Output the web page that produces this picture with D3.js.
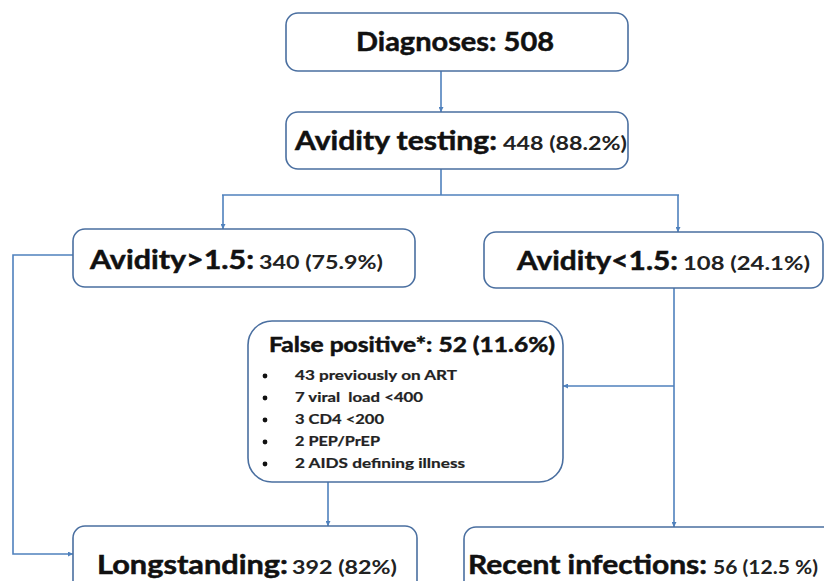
<!DOCTYPE html>
<html>
<head>
<meta charset="utf-8">
<script src="https://cdn.jsdelivr.net/npm/d3@7"></script>
<style>
  html, body { margin: 0; padding: 0; background: #fff; }
  svg { display: block; }
</style>
</head>
<body>
<svg id="chart" width="824" height="581"></svg>
<script>
// ---- data ----
const nodeTitles = ["Diagnoses:", "Avidity testing:", "Avidity>1.5:", "Avidity<1.5:", "False positive*:", "Longstanding:", "Recent infections:"];
const nodeCounts = [508, 448, 340, 108, 52, 392, 56];
const nodePercents = [null, "88.2%", "75.9%", "24.1%", "11.6%", "82%", "12.5 %"];
const falsePositiveReasons = ["43 previously on ART", "7 viral  load <400", "3 CD4 <200", "2 PEP/PrEP", "2 AIDS defining illness"];

// ---- layout (positions only) ----
const layout = [
  {x0: 286, x1: 628, y0: 13, y1: 71, r: 12, base: 51, t: [356, 554], n: null, fs: 27, nfs: 27, combined: true},
  {x0: 286, x1: 628, y0: 112, y1: 169, r: 12, base: 150, t: [295, 497], n: [503, 627], fs: 27, nfs: 19},
  {x0: 73, x1: 415, y0: 229, y1: 287, r: 12, base: 269, t: [90, 254], n: [259, 383], fs: 27, nfs: 19},
  {x0: 484, x1: 823, y0: 232, y1: 288, r: 12, base: 270, t: [517, 678], n: [683, 810], fs: 27, nfs: 19},
  {x0: 248, x1: 563, y0: 321, y1: 482, r: 24, base: 352, t: [269, 555], n: null, fs: 20, nfs: 20, combined: true},
  {x0: 73, x1: 417, y0: 526, y1: 620, r: 12, base: 574, t: [97, 288], n: [292, 397], fs: 27, nfs: 19},
  {x0: 464, x1: 840, y0: 527, y1: 620, r: 12, base: 574, t: [468, 707], n: [713, 818], fs: 27, nfs: 19}
];
const bulletLayout = {bx: 265, tx: 295, baselines: [380, 402, 424, 446, 468], widths: [162, 128, 89, 85, 170], fs: 13};

const lineColor = "#4f81bd";
const boxColor = "#4a6fa0";
const fontFam = "Lato, 'Open Sans', 'Liberation Sans', sans-serif";

const svg = d3.select("#chart");

// arrow marker
svg.append("defs").append("marker")
  .attr("id", "arr")
  .attr("viewBox", "0 0 10 10")
  .attr("refX", 10).attr("refY", 5)
  .attr("markerWidth", 5).attr("markerHeight", 5)
  .attr("markerUnits", "userSpaceOnUse")
  .attr("orient", "auto")
  .append("path").attr("d", "M0,0 L10,5 L0,10 Z").attr("fill", lineColor);

// connectors
const connectors = [
  {pts: [[441, 71], [441, 112]], arrow: true},
  {pts: [[441, 169], [441, 195]], arrow: false},
  {pts: [[222, 195], [679, 195]], arrow: false},
  {pts: [[223, 195], [223, 229]], arrow: true},
  {pts: [[678, 195], [678, 232]], arrow: true},
  {pts: [[73, 255], [13, 255], [13, 554], [73, 554]], arrow: true},
  {pts: [[674, 288], [674, 527]], arrow: true},
  {pts: [[674, 386], [563, 386]], arrow: true},
  {pts: [[328, 482], [328, 526]], arrow: true}
];
const line = d3.line();
svg.selectAll("path.conn").data(connectors).join("path")
  .attr("class", "conn")
  .attr("d", d => line(d.pts))
  .attr("fill", "none")
  .attr("stroke", lineColor)
  .attr("stroke-width", 1.6)
  .attr("marker-end", d => d.arrow ? "url(#arr)" : null);

// boxes
svg.selectAll("rect.box").data(layout).join("rect")
  .attr("class", "box")
  .attr("x", d => d.x0).attr("y", d => d.y0)
  .attr("width", d => d.x1 - d.x0).attr("height", d => d.y1 - d.y0)
  .attr("rx", d => d.r).attr("ry", d => d.r)
  .attr("fill", "#fff")
  .attr("stroke", boxColor)
  .attr("stroke-width", 1.6);

// titles
layout.forEach((L, i) => {
  const pct = nodePercents[i];
  const numText = pct ? `${nodeCounts[i]} (${pct})` : `${nodeCounts[i]}`;
  if (L.combined) {
    svg.append("text")
      .attr("x", L.t[0]).attr("y", L.base)
      .attr("font-family", fontFam).attr("font-weight", "bold")
      .attr("font-size", L.fs).attr("fill", "#111")
      .attr("stroke", "#111").attr("stroke-width", 0.5)
      .attr("textLength", L.t[1] - L.t[0]).attr("lengthAdjust", "spacingAndGlyphs")
      .text(`${nodeTitles[i]} ${numText}`);
  } else {
    svg.append("text")
      .attr("x", L.t[0]).attr("y", L.base)
      .attr("font-family", fontFam).attr("font-weight", "bold")
      .attr("font-size", L.fs).attr("fill", "#111")
      .attr("stroke", "#111").attr("stroke-width", 0.5)
      .attr("textLength", L.t[1] - L.t[0]).attr("lengthAdjust", "spacingAndGlyphs")
      .text(nodeTitles[i]);
    svg.append("text")
      .attr("x", L.n[0]).attr("y", L.base)
      .attr("font-family", fontFam).attr("font-weight", "bold")
      .attr("font-size", L.nfs).attr("fill", "#222")
      .attr("textLength", L.n[1] - L.n[0]).attr("lengthAdjust", "spacingAndGlyphs")
      .text(numText);
  }
});

// bullets
const bl = bulletLayout;
svg.selectAll("circle.bullet").data(falsePositiveReasons).join("circle")
  .attr("class", "bullet")
  .attr("cx", bl.bx).attr("cy", (d, i) => bl.baselines[i] - 4)
  .attr("r", 2.4).attr("fill", "#111");
svg.selectAll("text.reason").data(falsePositiveReasons).join("text")
  .attr("class", "reason")
  .attr("x", bl.tx).attr("y", (d, i) => bl.baselines[i])
  .attr("font-family", fontFam).attr("font-weight", "bold")
  .attr("font-size", bl.fs).attr("fill", "#222")
  .attr("stroke", "#222").attr("stroke-width", 0.2)
  .attr("textLength", (d, i) => bl.widths[i]).attr("lengthAdjust", "spacingAndGlyphs")
  .attr("xml:space", "preserve")
  .text(d => d);
</script>
</body>
</html>
